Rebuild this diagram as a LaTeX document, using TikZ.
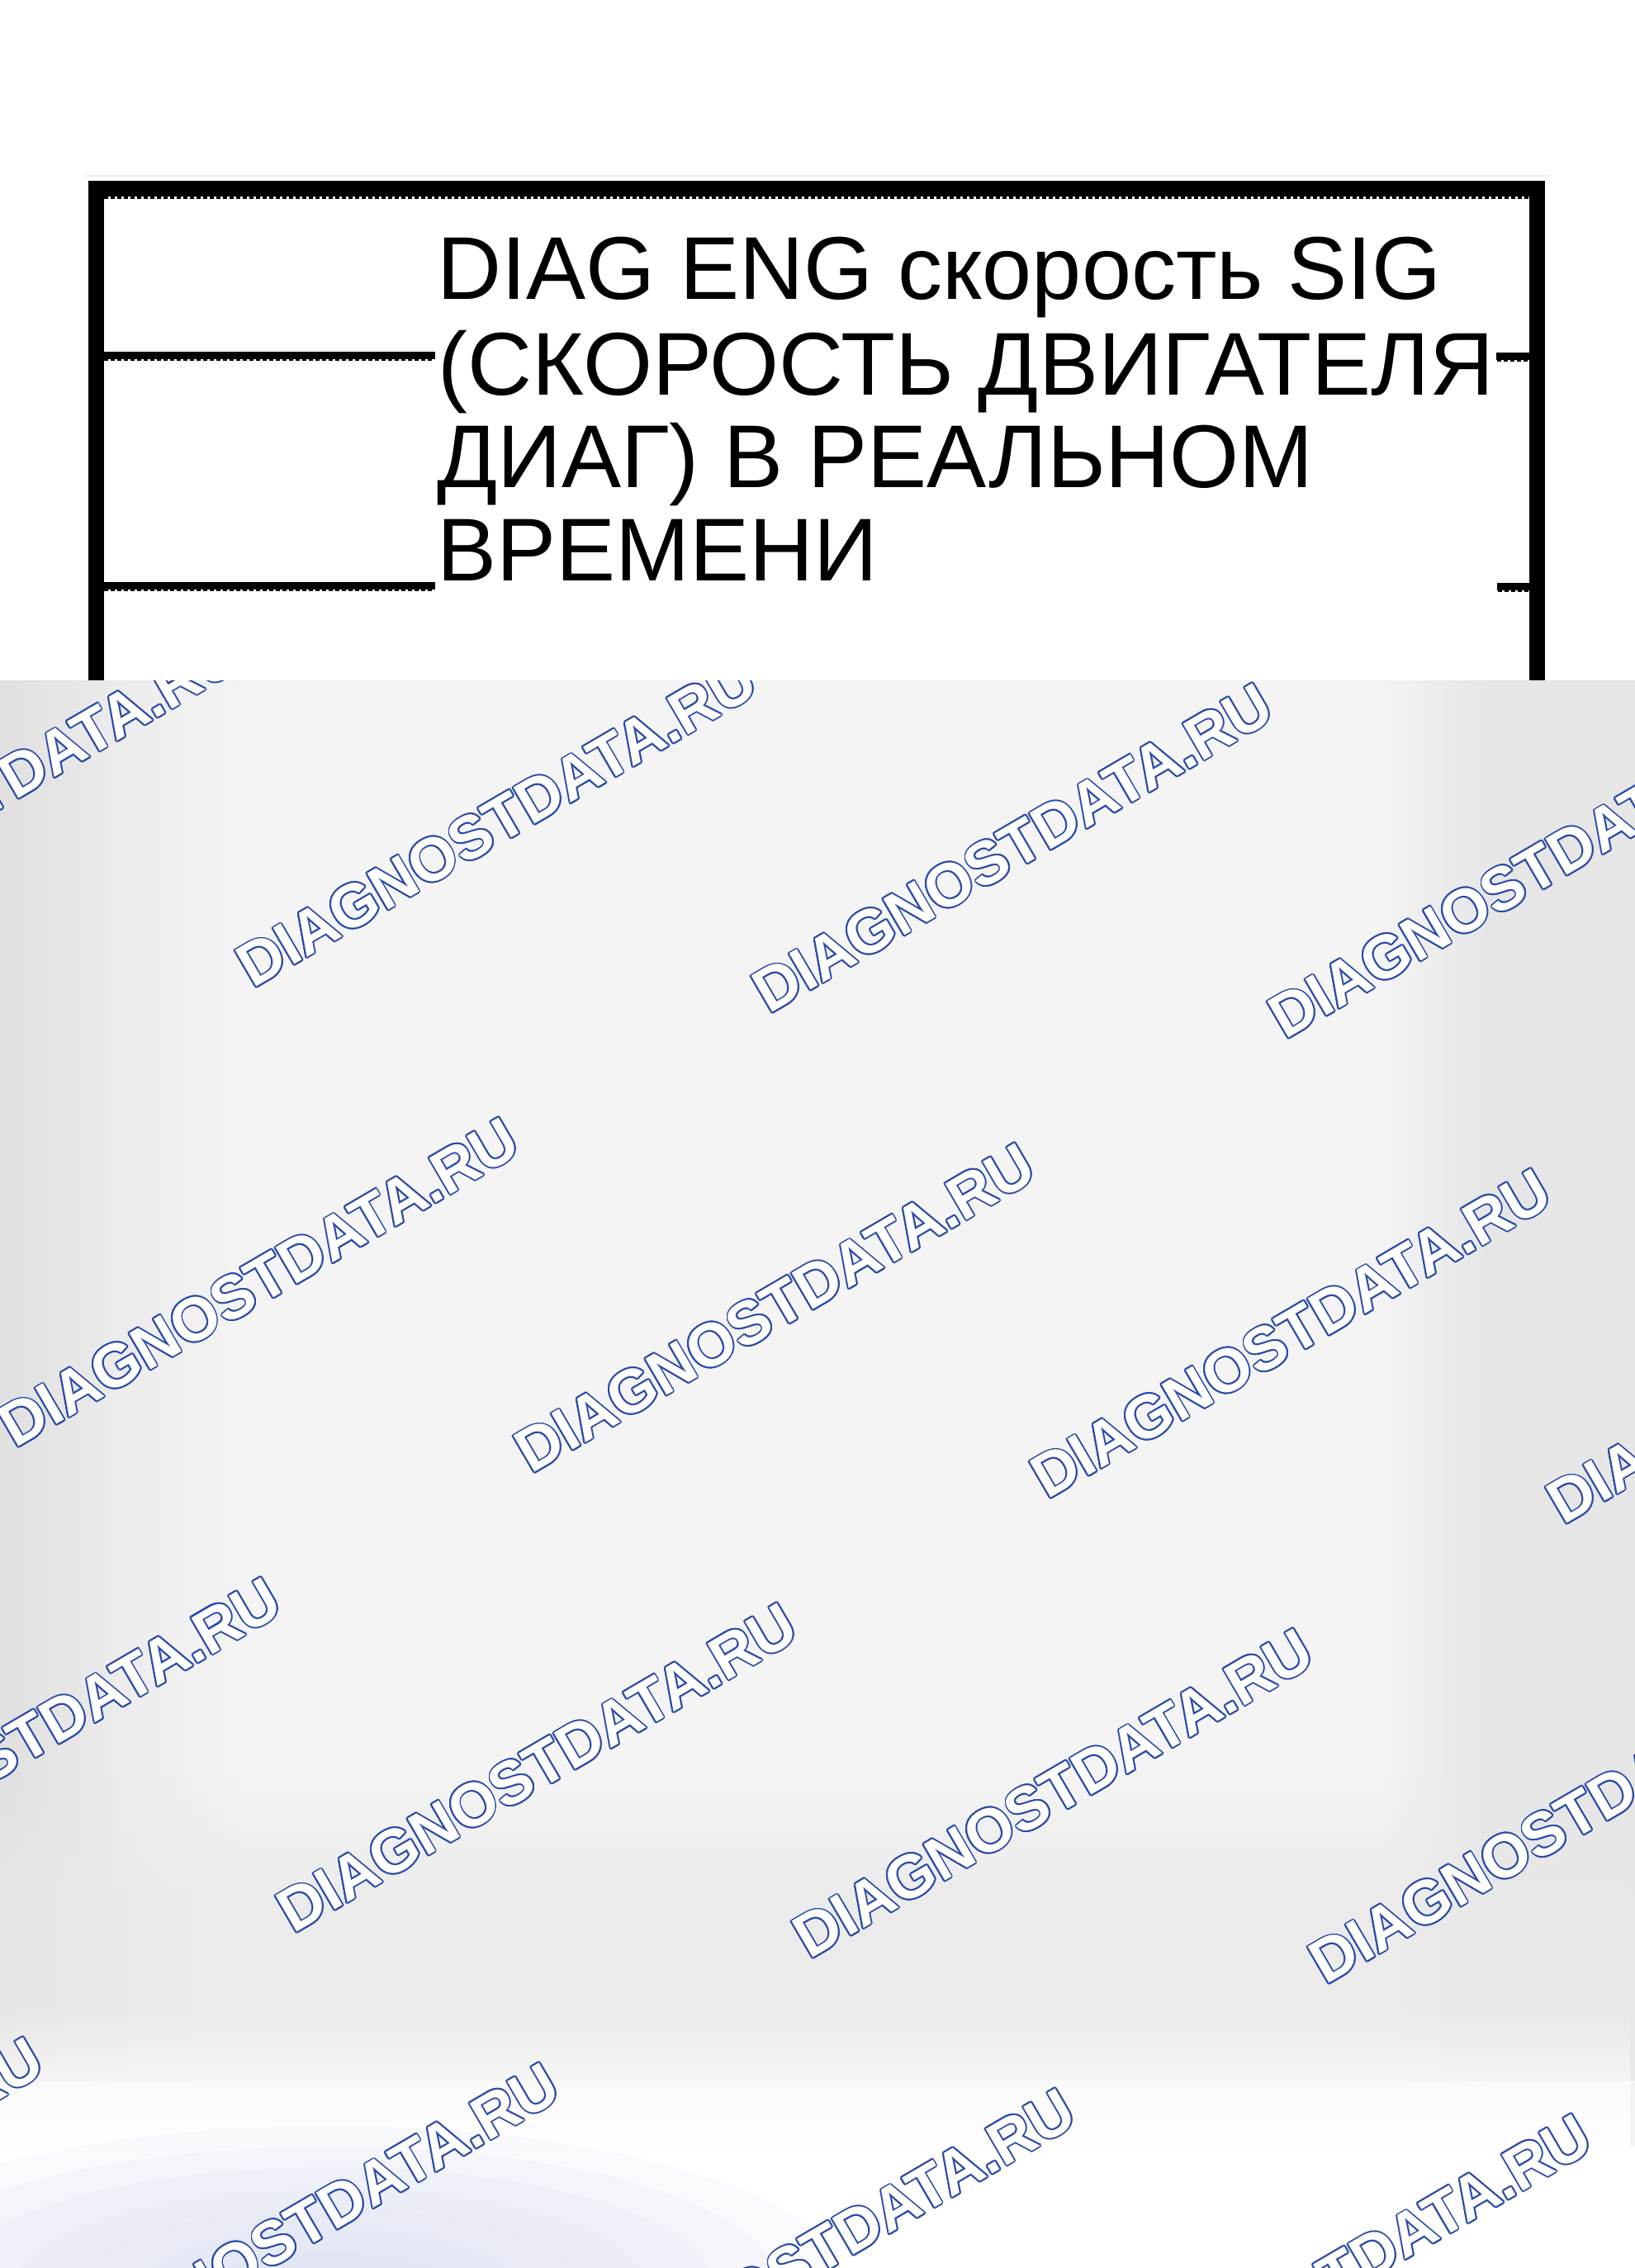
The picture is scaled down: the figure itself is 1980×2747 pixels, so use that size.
\documentclass[tikz,border=0pt]{standalone}
\usepackage{fontspec}
\setmainfont{Liberation Sans}
\usetikzlibrary{fadings}
\definecolor{wmblue}{HTML}{2B4BA8}
\definecolor{bgmid}{HTML}{F4F4F5}
\definecolor{bgdark}{HTML}{E0E0E1}
\definecolor{bgleft}{HTML}{EAEAEB}
\definecolor{bgside}{HTML}{E6E6E7}
\definecolor{bgband}{HTML}{E9E9EA}
\definecolor{bluetint}{HTML}{D6DCF1}
\tikzfading[name=fadeup, top color=transparent!100, bottom color=transparent!0]
\tikzset{
  boxframe/.style={line width=9.5pt, line join=miter, line cap=butt},
  hrule/.style={line width=4.5pt, line cap=butt},
  fringeline/.style={line width=1.6pt, dash pattern=on 2.6pt off 1.4pt},
  captxt/.style={anchor=base west, inner sep=0pt, font=\fontsize{54}{58}\selectfont},
  wmtext/.style={anchor=base west, inner sep=0pt, rotate=30.3, font=\bfseries\fontsize{37}{42}\selectfont},
  tintlayer/.style={fill=bluetint, fill opacity=0.14},
}
\begin{document}
\begin{tikzpicture}[x=0.5pt,y=-0.5pt]
\useasboundingbox (0,0) rectangle (1980,2747);
\fill[white] (0,0) rectangle (1980,2747);
% faint outline of the scanned panel
\draw[line width=0.8pt, black!7] (102,213) -- (1877,213);
% frame of the block
\coordinate (bl) at (116.5,830);
\coordinate (tl) at (116.5,228);
\coordinate (tr) at (1861,228);
\coordinate (br) at (1861,830);
\draw[boxframe] (bl) -- (tl) -- (tr) -- (br);
% fringe under top border
\coordinate (f0a) at (126,239.5);
\coordinate (f0b) at (1851,239.5);
\draw[fringeline] (f0a) -- (f0b);
% pin lines
\coordinate (l1a) at (126,430);
\coordinate (l1b) at (527,430);
\coordinate (r1a) at (1812,431);
\coordinate (r1b) at (1852,431);
\coordinate (l2a) at (126,709);
\coordinate (l2b) at (527,709);
\coordinate (r2a) at (1813,710);
\coordinate (r2b) at (1852,710);
\draw[hrule] (l1a) -- (l1b);
\draw[hrule] (r1a) -- (r1b);
\draw[hrule] (l2a) -- (l2b);
\draw[hrule] (r2a) -- (r2b);
\coordinate (fl1a) at (126,435.5);
\coordinate (fl1b) at (524,435.5);
\coordinate (fr1a) at (1813,436.5);
\coordinate (fr1b) at (1851,436.5);
\coordinate (fl2a) at (126,714.5);
\coordinate (fl2b) at (524,714.5);
\coordinate (fr2a) at (1814,715.5);
\coordinate (fr2b) at (1851,715.5);
\draw[fringeline] (fl1a) -- (fl1b);
\draw[fringeline] (fr1a) -- (fr1b);
\draw[fringeline] (fl2a) -- (fl2b);
\draw[fringeline] (fr2a) -- (fr2b);
% caption
\node[captxt] (t1) at (529,362) {DIAG ENG скорость SIG};
\node[captxt] (t2) at (530,478) {(СКОРОСТЬ ДВИГАТЕЛЯ};
\node[captxt] (t3) at (529,590) {ДИАГ) В РЕАЛЬНОМ};
\node[captxt] (t4) at (529,703) {ВРЕМЕНИ};
% grey blurred background
\fill[bgmid] (0,824) rectangle (1980,2600);
\shade[left color=bgleft, right color=bgmid] (110,824) rectangle (300,2520);
\shade[left color=bgdark, right color=bgleft] (0,824) rectangle (130,2520);
\shade[left color=bgmid, right color=bgside] (1670,824) rectangle (1800,2520);
\fill[bgside] (1800,824) rectangle (1980,2520);
\fill[bgband, fill opacity=0.75, path fading=fadeup] (0,2150) rectangle (1980,2300);
\fill[bgband, fill opacity=0.75] (0,2300) rectangle (1980,2520);
\fill[white, path fading=fadeup] (0,2430) rectangle (1980,2600);
% bluish tint, bottom left
\begin{scope}
  \clip (0,2560) rectangle (1980,2747);
  \foreach \r in {0,...,6}{
    \fill[tintlayer] (400,2765) ellipse [x radius={620-80*\r}, y radius={190-25*\r}];
  }
\end{scope}
% watermarks
\begin{scope}
  \clip (0,824) rectangle (1980,2747);
  \foreach \i in {-1,...,3}{
    \foreach \j in {0,...,3}{
      \pgfmathsetmacro{\wx}{306+625*\i-288*\j}
      \pgfmathsetmacro{\wy}{1198+31*\i+557*\j}
      \foreach \k in {1,...,16}{
        \node[wmtext, text=wmblue] (wo\i\j\k) at ({\wx+1.8*cos(22.5*\k)},{\wy+1.8*sin(22.5*\k)}) {DIAGNOSTDATA.RU};
      }
      \node[wmtext, text=white] (wm\i\j) at (\wx,\wy) {DIAGNOSTDATA.RU};
    }
  }
\end{scope}
\end{tikzpicture}
\end{document}
